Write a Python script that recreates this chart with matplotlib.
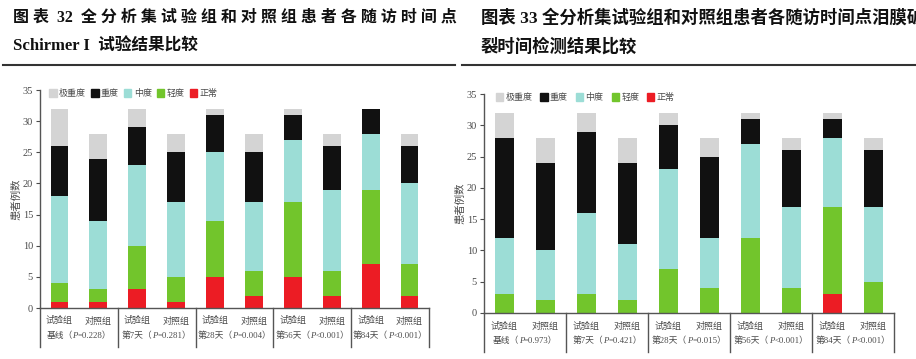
import numpy as np
import matplotlib.pyplot as plt
from matplotlib.patches import Patch
from matplotlib.offsetbox import TextArea, HPacker, AnnotationBbox

plt.rcParams['font.family'] = ['Liberation Serif', 'Noto Sans CJK SC']

levels = ['正常', '轻度', '中度', '重度', '极重度']
colors = ['#ec1c24', '#72c52c', '#9cddd6', '#111111', '#d4d4d4']
bar_names = ['试验组', '对照组']

# 图表32 Schirmer I，每根柱: [正常, 轻度, 中度, 重度, 极重度]
groups32 = [('基线（', '=0.228）'), ('第7天（', '=0.281）'), ('第28天（', '=0.004）'),
            ('第56天（', '<0.001）'), ('第84天（', '<0.001）')]
data32 = [[1, 3, 14, 8, 6], [1, 2, 11, 10, 4],
          [3, 7, 13, 6, 3], [1, 4, 12, 8, 3],
          [5, 9, 11, 6, 1], [2, 4, 11, 8, 3],
          [5, 12, 10, 4, 1], [2, 4, 13, 7, 2],
          [7, 12, 9, 4, 0], [2, 5, 13, 6, 2]]

# 图表33 泪膜破裂时间
groups33 = [('基线（', '=0.973）'), ('第7天（', '=0.421）'), ('第28天（', '=0.015）'),
            ('第56天（', '<0.001）'), ('第84天（', '<0.001）')]
data33 = [[0, 3, 9, 16, 4], [0, 2, 8, 14, 4],
          [0, 3, 13, 13, 3], [0, 2, 9, 13, 4],
          [0, 7, 16, 7, 2], [0, 4, 8, 13, 3],
          [0, 12, 15, 4, 1], [0, 4, 13, 9, 2],
          [3, 14, 11, 3, 1], [0, 5, 12, 9, 2]]

W, H = 916, 359
fig = plt.figure(figsize=(W / 100, H / 100), dpi=100)
grey = '#4a4a4a'


def px_axes(x0, x1, y_top, y_zero):
    return fig.add_axes([x0 / W, (H - y_zero) / H, (x1 - x0) / W, (y_zero - y_top) / H])


def draw(ax, data, groups, sep_bottom, legend_x, col_sp, ylab_x):
    data = np.array(data)
    x = np.arange(len(data)) + 0.5
    bottom = np.zeros(len(data))
    for k in range(5):
        ax.bar(x, data[:, k], 0.46, bottom=bottom, color=colors[k], linewidth=0)
        bottom += data[:, k]
    ax.set_xlim(0, 10)
    ax.set_ylim(0, 35)
    ax.set_yticks(range(0, 36, 5))
    ax.tick_params(axis='y', labelsize=7.5, colors=grey, length=3, width=0.8, pad=2)
    ax.set_xticks([])
    for s in ['top', 'right']:
        ax.spines[s].set_visible(False)
    for s in ['left', 'bottom']:
        ax.spines[s].set_color('#555555')
        ax.spines[s].set_linewidth(1)
    ax.set_ylabel('患者例数', fontsize=7.5, color=grey)
    ax.yaxis.set_label_coords(ylab_x, 0.5)
    tr = ax.get_xaxis_transform()
    for gx in range(0, 11, 2):
        ax.plot([gx, gx], [0, sep_bottom], color='#555555', lw=1, transform=tr, clip_on=False)
    for i, xi in enumerate(x):
        ax.text(xi, sep_bottom * 0.33, bar_names[i % 2], transform=tr, ha='center', va='center',
                fontsize=6.5, color=grey)
    for g, (a, b) in enumerate(groups):
        tp = dict(fontsize=6.3, color=grey)
        box = HPacker(children=[TextArea(a, textprops=tp),
                                TextArea('P', textprops=dict(tp, style='italic')),
                                TextArea(b, textprops=tp)],
                      pad=0, sep=0, align='baseline')
        ab = AnnotationBbox(box, (2 * g + 1, sep_bottom * 0.71), xycoords=tr,
                            box_alignment=(0.5, 0.5), frameon=False, pad=0,
                            annotation_clip=False)
        ax.add_artist(ab)
    handles = [Patch(color=colors[k], label=levels[k]) for k in range(4, -1, -1)]
    ax.legend(handles=handles, ncol=5, frameon=False, loc='center left',
              bbox_to_anchor=(legend_x, 0.985), fontsize=6.5, handlelength=0.8,
              handleheight=1.0, handletextpad=0.25, columnspacing=col_sp, borderaxespad=0,
              labelcolor=grey)


ax1 = px_axes(40, 429, 90, 308)
draw(ax1, data32, groups32, -0.18, 0.015, 0.6, -0.047)
ax2 = px_axes(484, 894, 94, 313)
draw(ax2, data33, groups33, -0.18, 0.02, 0.9, -0.045)

tfont = dict(fontweight='bold', color='#111111', va='center', ha='left')
line1 = ' '.join('图表') + '  32  ' + ' '.join('全分析集试验组和对照组患者各随访时间点')
fig.text(13 / W, 1 - 18 / H, line1, fontsize=11.5, **tfont)
fig.text(13 / W, 1 - 47 / H, 'Schirmer I  试验结果比较', fontsize=12, **tfont)
fig.text(481 / W, 1 - 18 / H, '图表 33 全分析集试验组和对照组患者各随访时间点泪膜破', fontsize=12.5, **tfont)
fig.text(481 / W, 1 - 47 / H, '裂时间检测结果比较', fontsize=12.5, **tfont)
fig.add_artist(plt.Line2D([3 / W, 455 / W], [1 - 65 / H] * 2, color='#333333', lw=1.5))
fig.add_artist(plt.Line2D([462 / W, 1], [1 - 65 / H] * 2, color='#333333', lw=1.5))

fig.savefig('out.png', dpi=100)
